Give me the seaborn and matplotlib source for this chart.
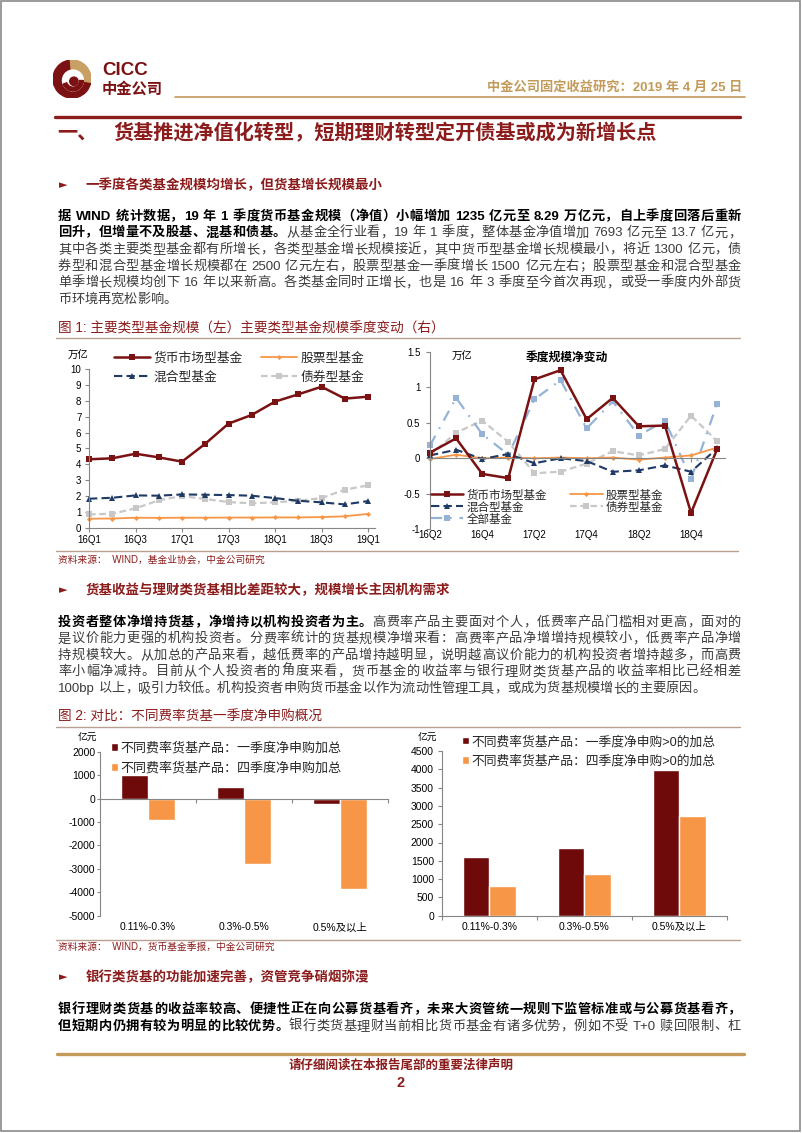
import re
import numpy as np
import pandas as pd
import matplotlib
matplotlib.use('Agg')
import matplotlib.pyplot as plt
import seaborn as sns
from matplotlib.font_manager import FontProperties
from matplotlib.patches import Wedge, Circle, Rectangle
from matplotlib.lines import Line2D

sns.set_theme(style='white')
CJK = ['Liberation Sans', 'Noto Sans CJK SC']
plt.rcParams['font.family'] = CJK
plt.rcParams['axes.unicode_minus'] = False

W, H = 802, 1133

# ---------------- data ----------------
quarters_lvl = ['16Q1', '16Q2', '16Q3', '16Q4', '17Q1', '17Q2', '17Q3', '17Q4',
                '18Q1', '18Q2', '18Q3', '18Q4', '19Q1']
money_lvl = [4.32, 4.38, 4.67, 4.44, 4.17, 5.30, 6.57, 7.12, 7.96, 8.42, 8.90, 8.15, 8.27]
stock_lvl = [0.57, 0.58, 0.63, 0.62, 0.63, 0.63, 0.64, 0.64, 0.65, 0.65, 0.67, 0.72, 0.87]
mixed_lvl = [1.83, 1.89, 2.04, 2.02, 2.10, 2.08, 2.06, 2.02, 1.87, 1.70, 1.60, 1.47, 1.68]
bond_lvl = [0.84, 0.88, 1.22, 1.73, 2.00, 1.81, 1.62, 1.54, 1.60, 1.70, 1.87, 2.40, 2.67]

quarters_chg = ['16Q2', '16Q3', '16Q4', '17Q1', '17Q2', '17Q3', '17Q4', '18Q1',
                '18Q2', '18Q3', '18Q4', '19Q1']
money_chg = [0.08, 0.28, -0.22, -0.28, 1.11, 1.24, 0.55, 0.85, 0.45, 0.46, -0.77, 0.13]
stock_chg = [-0.01, 0.05, 0.00, 0.01, 0.00, 0.01, 0.00, 0.01, -0.02, 0.01, 0.04, 0.15]
mixed_chg = [0.04, 0.12, -0.01, 0.06, -0.07, 0.00, -0.04, -0.19, -0.17, -0.10, -0.19, 0.14]
bond_chg = [0.04, 0.36, 0.53, 0.23, -0.21, -0.19, -0.075, 0.10, 0.04, 0.13, 0.60, 0.24]
all_chg = [0.18, 0.85, 0.34, 0.05, 0.83, 1.10, 0.42, 0.80, 0.32, 0.53, -0.29, 0.77]

fee_cats = ['0.11%-0.3%', '0.3%-0.5%', '0.5%及以上']
q1_net = [1000, 480, -220]
q4_net = [-900, -2800, -3870]
q1_pos = [1600, 1860, 3990]
q4_pos = [825, 1130, 2730]

lab_money, lab_stock, lab_mixed, lab_bond, lab_all = '货币市场型基金', '股票型基金', '混合型基金', '债券型基金', '全部基金'
lab_q1n, lab_q4n = '不同费率货基产品：一季度净申购加总', '不同费率货基产品：四季度净申购加总'
lab_q1p, lab_q4p = '不同费率货基产品：一季度净申购>0的加总', '不同费率货基产品：四季度净申购>0的加总'

# ---------------- colours ----------------
RED = '#8C1C1C'
LRED = '#7A1214'
BRED = '#6E0A0A'
ORANGE = '#F79646'
NAVY = '#1F3A64'
LGRAY = '#C8C8C8'
LBLUE = '#95B3D7'
GOLD = '#C49A5A'
SPINE = '#868686'

fig = plt.figure(figsize=(W / 100, H / 100), dpi=100)
renderer = fig.canvas.get_renderer()


def fx(x):
    return x / W


def fy(y):
    return 1 - y / H


def ax_px(l, t, r, b):
    return fig.add_axes([l / W, 1 - b / H, (r - l) / W, (b - t) / H])


def hline(y, x0, x1, color, lw):
    fig.add_artist(Line2D([fx(x0), fx(x1)], [fy(y), fy(y)], color=color, lw=lw,
                          transform=fig.transFigure))


def adv(tok, fp):
    if len(tok) == 1 and ord(tok) > 0x2000:
        return fp.get_size_in_points() * 100 / 72
    a = renderer.get_text_width_height_descent('H' + tok + 'H', fp, ismath=False)[0]
    b = renderer.get_text_width_height_descent('HH', fp, ismath=False)[0]
    return a - b


def draw_line(segs, y, x0=58, x1=741, size=9.5, justify=True):
    toks = []
    for text, bold, color in segs:
        fp = FontProperties(family=CJK, weight='bold' if bold else 'normal', size=size)
        for t in re.findall(r'[A-Za-z0-9.+%]+|.', text):
            toks.append((t, fp, color, adv(t, fp)))
    total = sum(t[3] for t in toks)
    gap = (x1 - x0 - total) / (len(toks) - 1) if (justify and len(toks) > 1) else 0
    x = x0
    yb = y + 0.36 * size * 100 / 72
    for t, fp, c, w in toks:
        if t.strip():
            fig.text(fx(x), fy(yb), t, fontproperties=fp, color=c, ha='left', va='baseline')
        x += w + gap


def style_ax(ax):
    for s in ['top', 'right']:
        ax.spines[s].set_visible(False)
    for s in ['left', 'bottom']:
        ax.spines[s].set_color(SPINE)
        ax.spines[s].set_linewidth(0.8)
    ax.set_facecolor('none')
    ax.tick_params(bottom=True, left=True, colors=SPINE, labelcolor='black', width=0.8)
    ax.set_xlabel('')
    ax.set_ylabel('')


# ---------------- page frame ----------------
fig.add_artist(Rectangle((fx(0.8), fy(1131)), fx(800) - fx(0.8), fy(0.8) - fy(1131),
                         fill=False, edgecolor='#8A8A8A', lw=1.2, transform=fig.transFigure))

# ---------------- logo / header ----------------
lax = ax_px(53, 60, 91, 98)
lax.set_xlim(-1, 1)
lax.set_ylim(-1, 1)
lax.set_aspect('equal')
lax.axis('off')
lax.add_patch(Wedge((0, 0), 1, 95, 350, color='#7B1113'))
lax.add_patch(Wedge((0, 0), 1, -10, 95, color='#C9A063'))
lax.add_patch(Circle((0.05, -0.08), 0.55, color='white'))
lax.add_patch(Wedge((0.05, -0.08), 0.55, 200, 360, width=0.2, color='#7B1113'))
lax.add_patch(Circle((0.1, -0.12), 0.22, color='#7B1113'))

fig.text(fx(102), fy(70.5), 'CICC', fontsize=13.5, weight='bold', color='#7B1113', ha='left', va='center')
fig.text(fx(102), fy(89.5), '中金公司', fontsize=11, weight='bold', color='#7B1113', ha='left', va='center')
fig.text(fx(742), fy(87), '中金公司固定收益研究：2019 年 4 月 25 日', fontsize=9.5, weight='bold',
         color=GOLD, ha='right', va='center')
hline(96.5, 175, 745, GOLD, 1.2)
hline(116.5, 55, 740, RED, 2.4)

fig.text(fx(57), fy(133.5), '一、', fontsize=14.5, weight='bold', color=RED, ha='left', va='center')
fig.text(fx(113), fy(133.5), '货基推进净值化转型，短期理财转型定开债基或成为新增长点', fontsize=14.5,
         weight='bold', color=RED, ha='left', va='center')


def section(y, text):
    fig.text(fx(59), fy(y), '►', fontsize=8, color=RED, ha='left', va='center', family=['DejaVu Sans'])
    fig.text(fx(86), fy(y), text, fontsize=9.7, weight='bold', color=RED, ha='left', va='center')


BLK = '#000000'
GRY = '#3C3C3C'

# ---------------- section 1 ----------------
section(185, '一季度各类基金规模均增长，但货基增长规模最小')
p1 = [
    [('据 WIND 统计数据，19 年 1 季度货币基金规模（净值）小幅增加 1235 亿元至 8.29 万亿元，自上季度回落后重新', True, BLK)],
    [('回升，但增量不及股基、混基和债基。', True, BLK), ('从基金全行业看，19 年 1 季度，整体基金净值增加 7693 亿元至 13.7 亿元，', False, GRY)],
    [('其中各类主要类型基金都有所增长，各类型基金增长规模接近，其中货币型基金增长规模最小，将近 1300 亿元，债', False, GRY)],
    [('券型和混合型基金增长规模都在 2500 亿元左右，股票型基金一季度增长 1500 亿元左右；股票型基金和混合型基金', False, GRY)],
    [('单季增长规模均创下 16 年以来新高。各类基金同时正增长，也是 16 年 3 季度至今首次再现，或受一季度内外部货', False, GRY)],
    [('币环境再宽松影响。', False, GRY)],
]
for i, segs in enumerate(p1):
    draw_line(segs, 215 + 16.6 * i, justify=(i < len(p1) - 1))

fig.text(fx(58), fy(329), '图 1: 主要类型基金规模（左）主要类型基金规模季度变动（右）', fontsize=9.8,
         color=RED, ha='left', va='center')
hline(338.5, 56, 740, '#B8A090', 1.0)

# ---------------- chart 1 left ----------------
ax1 = ax_px(89, 369.3, 375, 527.7)
xl = np.arange(len(quarters_lvl))
sns.lineplot(x=xl, y=bond_lvl, ax=ax1, color=LGRAY, lw=1.6, linestyle=(0, (3, 1.6)), marker='s',
             markersize=4.6, markeredgecolor=LGRAY, markeredgewidth=0, label=lab_bond, clip_on=False)
sns.lineplot(x=xl, y=stock_lvl, ax=ax1, color=ORANGE, lw=1.3, marker='D', markersize=2.6,
             markeredgecolor=ORANGE, markeredgewidth=0, label=lab_stock, clip_on=False)
sns.lineplot(x=xl, y=mixed_lvl, ax=ax1, color=NAVY, lw=1.5, linestyle=(0, (4, 2)), marker='^',
             markersize=4.8, markeredgecolor=NAVY, markeredgewidth=0, label=lab_mixed, clip_on=False)
sns.lineplot(x=xl, y=money_lvl, ax=ax1, color=LRED, lw=1.8, marker='s', markersize=4.6,
             markeredgecolor=LRED, markeredgewidth=0, label=lab_money, clip_on=False)
style_ax(ax1)
ax1.set_xlim(0, 12.3)
ax1.set_ylim(0, 10)
ax1.set_yticks(range(0, 11))
ax1.set_xticks(xl[::2])
ax1.set_xticklabels(quarters_lvl[::2])
ax1.tick_params(axis='both', direction='out', length=3, labelsize=7, pad=2.5)
h, l = ax1.get_legend_handles_labels()
hd = dict(zip(l, h))
order = [lab_money, lab_mixed, lab_stock, lab_bond]
ax1.legend([hd[k] for k in order], order, ncol=2, loc='upper left', bbox_to_anchor=(fx(114), fy(352)),
           bbox_transform=fig.transFigure, frameon=False, fontsize=9.2, handlelength=2.8,
           handletextpad=0.3, columnspacing=1.4, labelspacing=0.55, borderpad=0, borderaxespad=0)
fig.text(fx(68), fy(355), '万亿', fontsize=7.5, color='black', ha='left', va='center')

# ---------------- chart 1 right ----------------
ax2 = ax_px(430, 351.7, 725, 529.3)
xc = np.arange(len(quarters_chg))
sns.lineplot(x=xc, y=bond_chg, ax=ax2, color=LGRAY, lw=1.6, linestyle=(0, (3, 1.6)), marker='s',
             markersize=4.6, markeredgecolor=LGRAY, markeredgewidth=0, label=lab_bond, clip_on=False)
sns.lineplot(x=xc, y=all_chg, ax=ax2, color=LBLUE, lw=1.6, linestyle=(0, (5, 3.5, 0.8, 3.5)), marker='s',
             markersize=5, markeredgecolor=LBLUE, markeredgewidth=0, label=lab_all, clip_on=False)
sns.lineplot(x=xc, y=stock_chg, ax=ax2, color=ORANGE, lw=1.3, marker='D', markersize=2.6,
             markeredgecolor=ORANGE, markeredgewidth=0, label=lab_stock, clip_on=False)
sns.lineplot(x=xc, y=mixed_chg, ax=ax2, color=NAVY, lw=1.5, linestyle=(0, (4, 2)), marker='^',
             markersize=4.8, markeredgecolor=NAVY, markeredgewidth=0, label=lab_mixed, clip_on=False)
sns.lineplot(x=xc, y=money_chg, ax=ax2, color=LRED, lw=1.8, marker='s', markersize=4.6,
             markeredgecolor=LRED, markeredgewidth=0, label=lab_money, clip_on=False)
style_ax(ax2)
ax2.spines['bottom'].set_position(('data', 0))
ax2.set_xlim(0, 11.3)
ax2.set_ylim(-1, 1.5)
ax2.set_yticks([-1, -0.5, 0, 0.5, 1, 1.5])
ax2.set_yticklabels(['-1', '-0.5', '0', '0.5', '1', '1.5'])
ax2.set_xticks(xc[::2])
ax2.set_xticklabels(quarters_chg[::2])
ax2.tick_params(axis='y', direction='out', length=3, labelsize=7, pad=4)
ax2.tick_params(axis='x', direction='out', length=3, labelsize=7, pad=49)
h, l = ax2.get_legend_handles_labels()
hd = dict(zip(l, h))
order = [lab_money, lab_mixed, lab_all, lab_stock, lab_bond]
ax2.legend([hd[k] for k in order], order, ncol=2, loc='upper left', bbox_to_anchor=(fx(431), fy(489.5)),
           bbox_transform=fig.transFigure, frameon=False, fontsize=8.3, handlelength=2.8,
           handletextpad=0.3, columnspacing=2.0, labelspacing=0.0, borderpad=0, borderaxespad=0)
fig.text(fx(462), fy(356), '万亿', fontsize=7.5, color='black', ha='center', va='center')
fig.text(fx(567), fy(358), '季度规模净变动', fontsize=8.5, weight='bold', color='black', ha='center', va='center')

hline(551, 56, 738, '#B8A090', 1.0)
fig.text(fx(58), fy(560), '资料来源：  WIND，基金业协会，中金公司研究', fontsize=7, color=RED, ha='left', va='center')

# ---------------- section 2 ----------------
section(590, '货基收益与理财类货基相比差距较大，规模增长主因机构需求')
p2 = [
    [('投资者整体净增持货基，净增持以机构投资者为主。', True, BLK), ('高费率产品主要面对个人，低费率产品门槛相对更高，面对的', False, GRY)],
    [('是议价能力更强的机构投资者。分费率统计的货基规模净增来看：高费率产品净增增持规模较小，低费率产品净增', False, GRY)],
    [('持规模较大。从加总的产品来看，越低费率的产品增持越明显，说明越高议价能力的机构投资者增持越多，而高费', False, GRY)],
    [('率小幅净减持。目前从个人投资者的角度来看，货币基金的收益率与银行理财类货基产品的收益率相比已经相差', False, GRY)],
    [('100bp 以上，吸引力较低。机构投资者申购货币基金以作为流动性管理工具，或成为货基规模增长的主要原因。', False, GRY)],
]
for i, segs in enumerate(p2):
    draw_line(segs, 621 + 16.5 * i, justify=(i < len(p2) - 1))

fig.text(fx(58), fy(716.5), '图 2: 对比：不同费率货基一季度净申购概况', fontsize=9.8, color=RED, ha='left', va='center')
hline(727, 56, 740, '#B8A090', 1.0)

# ---------------- bar chart left ----------------
df_net = pd.DataFrame({'cat': fee_cats * 2, 'val': q1_net + q4_net,
                       'ser': [lab_q1n] * 3 + [lab_q4n] * 3})
ax3 = ax_px(100, 751.7, 388, 915.7)
sns.barplot(data=df_net, x='cat', y='val', hue='ser', palette=[BRED, ORANGE], width=0.56, gap=0,
            saturation=1, errorbar=None, ax=ax3)
style_ax(ax3)
ax3.spines['bottom'].set_position(('data', 0))
ax3.set_xlim(-0.5, 2.5)
ax3.set_ylim(-5000, 2000)
ax3.set_yticks(range(-5000, 2001, 1000))
ax3.set_xticks([0.5, 1.5, 2.5], minor=True)
ax3.tick_params(axis='x', which='major', length=0, labelsize=7.5, pad=89)
ax3.tick_params(axis='x', which='minor', bottom=True, direction='out', length=3, color=SPINE, width=0.8)
ax3.tick_params(axis='y', direction='out', length=2, labelsize=7.5, pad=1.5)
leg = ax3.get_legend()
hh, ll = leg.legend_handles, [t.get_text() for t in leg.get_texts()]
ax3.legend(hh, ll, loc='upper left', bbox_to_anchor=(fx(111), fy(741.5)), bbox_transform=fig.transFigure,
           frameon=False, fontsize=9.4, handlelength=0.55, handleheight=0.55, handletextpad=0.15,
           labelspacing=0.6, borderpad=0, borderaxespad=0)
fig.text(fx(87), fy(738), '亿元', fontsize=7, color='black', ha='center', va='center')

# ---------------- bar chart right ----------------
df_pos = pd.DataFrame({'cat': fee_cats * 2, 'val': q1_pos + q4_pos,
                       'ser': [lab_q1p] * 3 + [lab_q4p] * 3})
ax4 = ax_px(441.7, 751, 727, 915.7)
sns.barplot(data=df_pos, x='cat', y='val', hue='ser', palette=[BRED, ORANGE], width=0.56, gap=0,
            saturation=1, errorbar=None, ax=ax4)
style_ax(ax4)
ax4.set_xlim(-0.5, 2.5)
ax4.set_ylim(0, 4500)
ax4.set_yticks(range(0, 4501, 500))
ax4.set_xticks([-0.5, 0.5, 1.5, 2.5], minor=True)
ax4.tick_params(axis='x', which='major', length=0, labelsize=7.5, pad=4.5)
ax4.tick_params(axis='x', which='minor', bottom=True, direction='out', length=3, color=SPINE, width=0.8)
ax4.tick_params(axis='y', direction='out', length=3, labelsize=7.5, pad=2.5)
leg = ax4.get_legend()
hh, ll = leg.legend_handles, [t.get_text() for t in leg.get_texts()]
ax4.legend(hh, ll, loc='upper left', bbox_to_anchor=(fx(462), fy(735.5)), bbox_transform=fig.transFigure,
           frameon=False, fontsize=9.2, handlelength=0.55, handleheight=0.55, handletextpad=0.15,
           labelspacing=0.5, borderpad=0, borderaxespad=0)
fig.text(fx(427), fy(738), '亿元', fontsize=7, color='black', ha='center', va='center')

hline(940, 56, 740, '#B8A090', 1.0)
fig.text(fx(58), fy(947), '资料来源：  WIND，货币基金季报，中金公司研究', fontsize=7, color=RED, ha='left', va='center')

# ---------------- section 3 ----------------
section(977, '银行类货基的功能加速完善，资管竞争硝烟弥漫')
p3 = [
    [('银行理财类货基的收益率较高、便捷性正在向公募货基看齐，未来大资管统一规则下监管标准或与公募货基看齐，', True, BLK)],
    [('但短期内仍拥有较为明显的比较优势。', True, BLK), ('银行类货基理财当前相比货币基金有诸多优势，例如不受 T+0 赎回限制、杠', False, GRY)],
]
for i, segs in enumerate(p3):
    draw_line(segs, 1008 + 17 * i, justify=True)

# ---------------- footer ----------------
hline(1054, 57, 744, GOLD, 2.4)
fig.text(fx(401), fy(1066), '请仔细阅读在本报告尾部的重要法律声明', fontsize=9, weight='bold', color=RED,
         ha='center', va='center')
fig.text(fx(401), fy(1083), '2', fontsize=10.5, weight='bold', color=RED, ha='center', va='center')

fig.savefig('out.png', dpi=100)
